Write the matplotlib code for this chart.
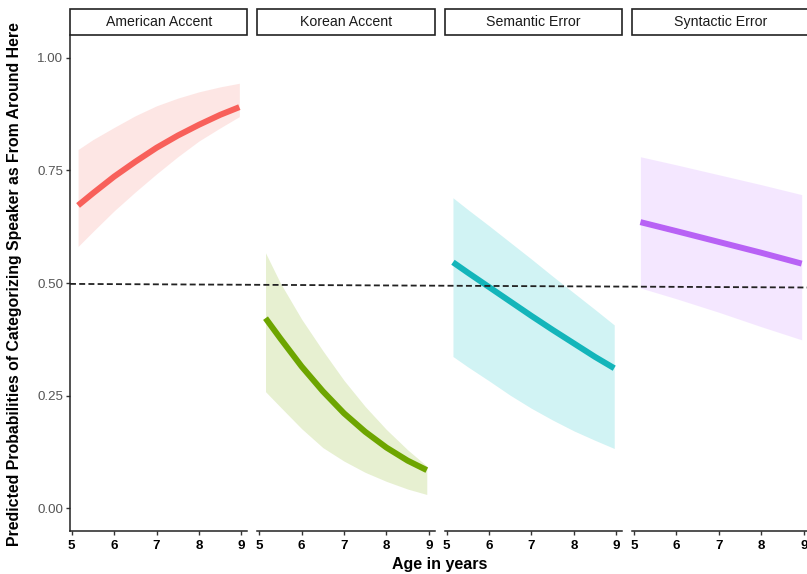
import matplotlib
matplotlib.use("Agg")
import matplotlib.pyplot as plt
from matplotlib.patches import Rectangle
from matplotlib.lines import Line2D

plt.rcParams['font.family'] = ['Liberation Sans', 'DejaVu Sans']

# ---------------- data ----------------
panels = ["American Accent", "Korean Accent", "Semantic Error", "Syntactic Error"]
colors = ["#F8766D", "#7CAE00", "#00BFC4", "#C77CFF"]
line_colors = ["#F8605A", "#6DA500", "#14B5BA", "#B862F5"]

age_am = [5.15, 5.5, 6.0, 6.5, 7.0, 7.5, 8.0, 8.5, 8.95]
fit_am = [0.672, 0.699, 0.736, 0.769, 0.800, 0.827, 0.851, 0.873, 0.890]
lo_am = [0.581, 0.614, 0.660, 0.702, 0.742, 0.780, 0.815, 0.844, 0.869]
hi_am = [0.796, 0.818, 0.845, 0.871, 0.893, 0.910, 0.924, 0.935, 0.943]

age_ko = [5.15, 5.5, 6.0, 6.5, 7.0, 7.5, 8.0, 8.5, 8.95]
fit_ko = [0.422, 0.377, 0.315, 0.260, 0.211, 0.170, 0.135, 0.106, 0.085]
lo_ko = [0.259, 0.225, 0.177, 0.135, 0.105, 0.080, 0.060, 0.043, 0.031]
hi_ko = [0.567, 0.500, 0.420, 0.350, 0.284, 0.226, 0.175, 0.130, 0.094]

age_se = [5.15, 5.5, 6.0, 6.5, 7.0, 7.5, 8.0, 8.5, 8.95]
fit_se = [0.546, 0.523, 0.491, 0.459, 0.427, 0.396, 0.366, 0.336, 0.311]
lo_se = [0.337, 0.314, 0.283, 0.251, 0.222, 0.196, 0.172, 0.151, 0.133]
hi_se = [0.689, 0.663, 0.627, 0.590, 0.553, 0.515, 0.478, 0.441, 0.407]

age_sy = [5.15, 6.0, 7.0, 8.0, 8.95]
fit_sy = [0.635, 0.615, 0.591, 0.567, 0.543]
lo_sy = [0.489, 0.465, 0.435, 0.403, 0.374]
hi_sy = [0.780, 0.762, 0.740, 0.718, 0.696]

series = [
    (age_am, fit_am, lo_am, hi_am),
    (age_ko, fit_ko, lo_ko, hi_ko),
    (age_se, fit_se, lo_se, hi_se),
    (age_sy, fit_sy, lo_sy, hi_sy),
]

x_ticks = [5, 6, 7, 8, 9]
y_ticks = [0.00, 0.25, 0.50, 0.75, 1.00]
y_tick_labels = ["0.00", "0.25", "0.50", "0.75", "1.00"]
ref_y_start, ref_y_end = 0.498, 0.490

# ---------------- layout ----------------
W, H = 807, 574
fig = plt.figure(figsize=(W / 100, H / 100), dpi=100)
fig.patch.set_facecolor("white")

left0, step, pw = 70, 187.45, 177.4
top_px, bot_px = 35, 531
strip_h = 26

axes = []
for i, name in enumerate(panels):
    l = left0 + i * step
    ax = fig.add_axes([l / W, 1 - bot_px / H, pw / W, (bot_px - top_px) / H])
    axes.append(ax)
    age, fit, lo, hi = series[i]
    ax.fill_between(age, lo, hi, color=colors[i], alpha=0.18, linewidth=0)
    ax.plot(age, fit, color=line_colors[i], lw=4.3, solid_capstyle="butt",
            solid_joinstyle="round")
    ax.set_xlim(4.96, 9.14)
    ax.set_ylim(-0.05, 1.05)
    ax.set_xticks(x_ticks)
    ax.set_xticklabels([str(t) for t in x_ticks], fontsize=9.6,
                       fontweight="bold", color="black")
    for s in ["top", "right"]:
        ax.spines[s].set_visible(False)
    ax.spines["bottom"].set_color("#222222")
    ax.spines["bottom"].set_linewidth(1.1)
    ax.tick_params(axis="x", length=3, width=1, color="#333333", pad=3.5)
    if i == 0:
        ax.set_yticks(y_ticks)
        ax.set_yticklabels(y_tick_labels, fontsize=9.6, color="#555555")
        ax.spines["left"].set_color("#222222")
        ax.spines["left"].set_linewidth(1.1)
        ax.tick_params(axis="y", length=3, width=1, color="#333333", pad=2)
    else:
        ax.spines["left"].set_visible(False)
        ax.set_yticks([])
    ax.set_facecolor("none")
    # strip
    hfrac = strip_h / (bot_px - top_px)
    rect = Rectangle((0, 1.0), 1, hfrac, transform=ax.transAxes,
                     facecolor="white", edgecolor="#222222", lw=1.2,
                     clip_on=False)
    ax.add_patch(rect)
    ax.text(0.5, 1 + hfrac / 2, name, transform=ax.transAxes, ha="center",
            va="center", fontsize=10.2, color="#1a1a1a")

# dashed reference line across all panels
fig.canvas.draw()
p0 = axes[0].transData.transform((4.96, ref_y_start))
p1 = axes[-1].transData.transform((9.14, ref_y_end))
fx0, fy0 = fig.transFigure.inverted().transform(p0)
fx1, fy1 = fig.transFigure.inverted().transform(p1)
fig.add_artist(Line2D([fx0, fx1], [fy0, fy1], transform=fig.transFigure,
                      color="#222222", lw=1.3, linestyle=(0, (3.3, 1.8))))

fig.text(440 / W, 1 - 565 / H, "Age in years", ha="center", va="center",
         fontsize=11.5, fontweight="bold")
fig.text(15 / W, 1 - 284 / H,
         "Predicted Probabilities of Categorizing Speaker as From Around Here",
         ha="center", va="center", rotation=90, fontsize=11.4,
         fontweight="bold")

fig.savefig("out.png", dpi=100, facecolor="white")
